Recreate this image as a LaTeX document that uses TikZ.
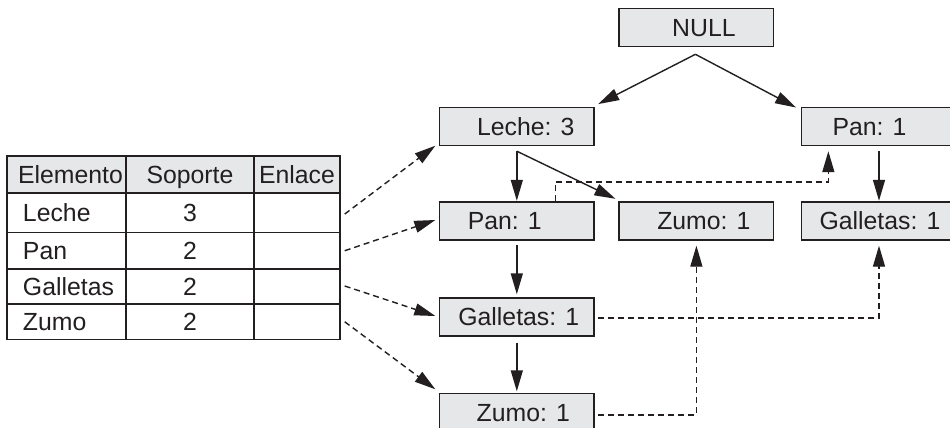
\documentclass[tikz,border=0pt]{standalone}
\usepackage{fontspec}
\setmainfont{Liberation Sans}
\usetikzlibrary{arrows.meta,calc}
\definecolor{ink}{HTML}{231F20}
\definecolor{boxgray}{HTML}{E6E7E8}
\tikzset{
  lbl/.style={inner sep=0pt, text=ink, font=\fontsize{24.8}{29}\selectfont, text height=17.8pt, text depth=0pt},
  box/.style={lbl, draw=ink, fill=boxgray, line width=1.4pt, minimum width=154.5pt, minimum height=38pt},
  cell/.style={lbl, draw=ink, line width=1.4pt, fill=white},
  hcell/.style={cell, fill=boxgray},
  arr/.style={-{Triangle[length=21pt,width=12pt]}, line width=1.4pt, draw=ink},
  darr/.style={arr, dash pattern=on 6pt off 4pt},
}
\begin{document}
\begin{tikzpicture}[x=1pt,y=-1pt]
\useasboundingbox (0,0) rectangle (950,428);
\fill[white] (0,0) rectangle (950,428);
\clip (0,0) rectangle (950,428);

% table
\node[hcell, minimum width=119pt, minimum height=37pt] (h1) at (66.5,174.5) {\hspace*{8pt}Elemento};
\node[hcell, minimum width=128pt, minimum height=37pt] (h2) at (190,174.5) {Soporte};
\node[hcell, minimum width=86pt, minimum height=37pt] (h3) at (297,174.5) {Enlace};

\node[cell, minimum width=119pt, minimum height=39.5pt] (a1) at (66.5,212.75) {\makebox[119pt][l]{\hspace*{16pt}Leche}};
\node[cell, minimum width=128pt, minimum height=39.5pt] (b1) at (190,212.75) {3};
\node[cell, minimum width=86pt, minimum height=39.5pt] (e1) at (297,212.75) {};

\node[cell, minimum width=119pt, minimum height=36.5pt] (a2) at (66.5,250.75) {\makebox[119pt][l]{\hspace*{16pt}Pan}};
\node[cell, minimum width=128pt, minimum height=36.5pt] (b2) at (190,250.75) {2};
\node[cell, minimum width=86pt, minimum height=36.5pt] (e2) at (297,250.75) {};

\node[cell, minimum width=119pt, minimum height=35pt] (a3) at (66.5,286.5) {\makebox[119pt][l]{\hspace*{16pt}Galletas}};
\node[cell, minimum width=128pt, minimum height=35pt] (b3) at (190,286.5) {2};
\node[cell, minimum width=86pt, minimum height=35pt] (e3) at (297,286.5) {};

\node[cell, minimum width=119pt, minimum height=35.5pt] (a4) at (66.5,321.75) {\makebox[119pt][l]{\hspace*{16pt}Zumo}};
\node[cell, minimum width=128pt, minimum height=35.5pt] (b4) at (190,321.75) {2};
\node[cell, minimum width=86pt, minimum height=35.5pt] (e4) at (297,321.75) {};

% tree
\node[box] (null) at (696.4,27.6) {\hspace*{15pt}NULL};
\node[box] (leche) at (516.8,126.5) {\hspace*{18pt}Leche: 3};
\node[box] (panR) at (879,126.5) {Pan: 1\hspace*{19pt}};
\node[box] (panM) at (516.8,221) {Pan: 1\hspace*{24pt}};
\node[box] (zumoT) at (696.4,221) {\hspace*{15pt}Zumo: 1};
\node[box] (galR) at (879,221) {\hspace*{2pt}Galletas: 1};
\node[box] (galM) at (516.8,317) {\hspace*{4pt}Galletas: 1};
\node[box] (zumoB) at (516.8,412.5) {\hspace*{13pt}Zumo: 1};

% solid arrows
\draw[arr] ($(null.south)+(-1,7)$) -- ($(leche.north east)+(3.4,-2.7)$);
\draw[arr] ($(null.south)+(-1,7)$) -- ($(panR.north west)+(-5,0.7)$);
\draw[arr] ($(leche.south)+(0,5)$) -- ($(panM.north)+(0,-0.5)$);
\draw[arr] ($(leche.south)+(0,5)$) -- ($(zumoT.north west)+(-3,-2.5)$);
\draw[arr] ($(panR.south)+(0,5)$) -- ($(galR.north)+(0,-0.5)$);
\draw[arr] ($(panM.south)+(0,4.5)$) -- ($(galM.north)+(0,-3)$);
\draw[arr] ($(galM.south)+(0,6)$) -- ($(zumoB.north)+(0,-1.5)$);

% dashed links
\draw[darr] ($(panM.north west)+(116.7,0)$) -- ++(0,-19.2) -| ($(panR.south west)+(27.3,5)$);
\draw[darr] ($(galM.east)+(3.5,0.8)$) -| ($(galR.south)+(0,5)$);
\draw[darr] ($(zumoB.east)+(3.5,2.3)$) -| ($(zumoT.south)+(0,5)$);

% table links
\draw[darr] ($(e1.east)+(4,1.3)$) -- ($(leche.south west)+(-3.5,-0.5)$);
\draw[darr] ($(e2.east)+(4,0)$) -- ($(panM.west)+(-3.5,-1)$);
\draw[darr] ($(e3.east)+(4,-0.5)$) -- ($(galM.west)+(-3.5,-1)$);
\draw[darr] ($(e4.east)+(4,0)$) -- ($(zumoB.north west)+(-3.5,-3.5)$);
\end{tikzpicture}
\end{document}
